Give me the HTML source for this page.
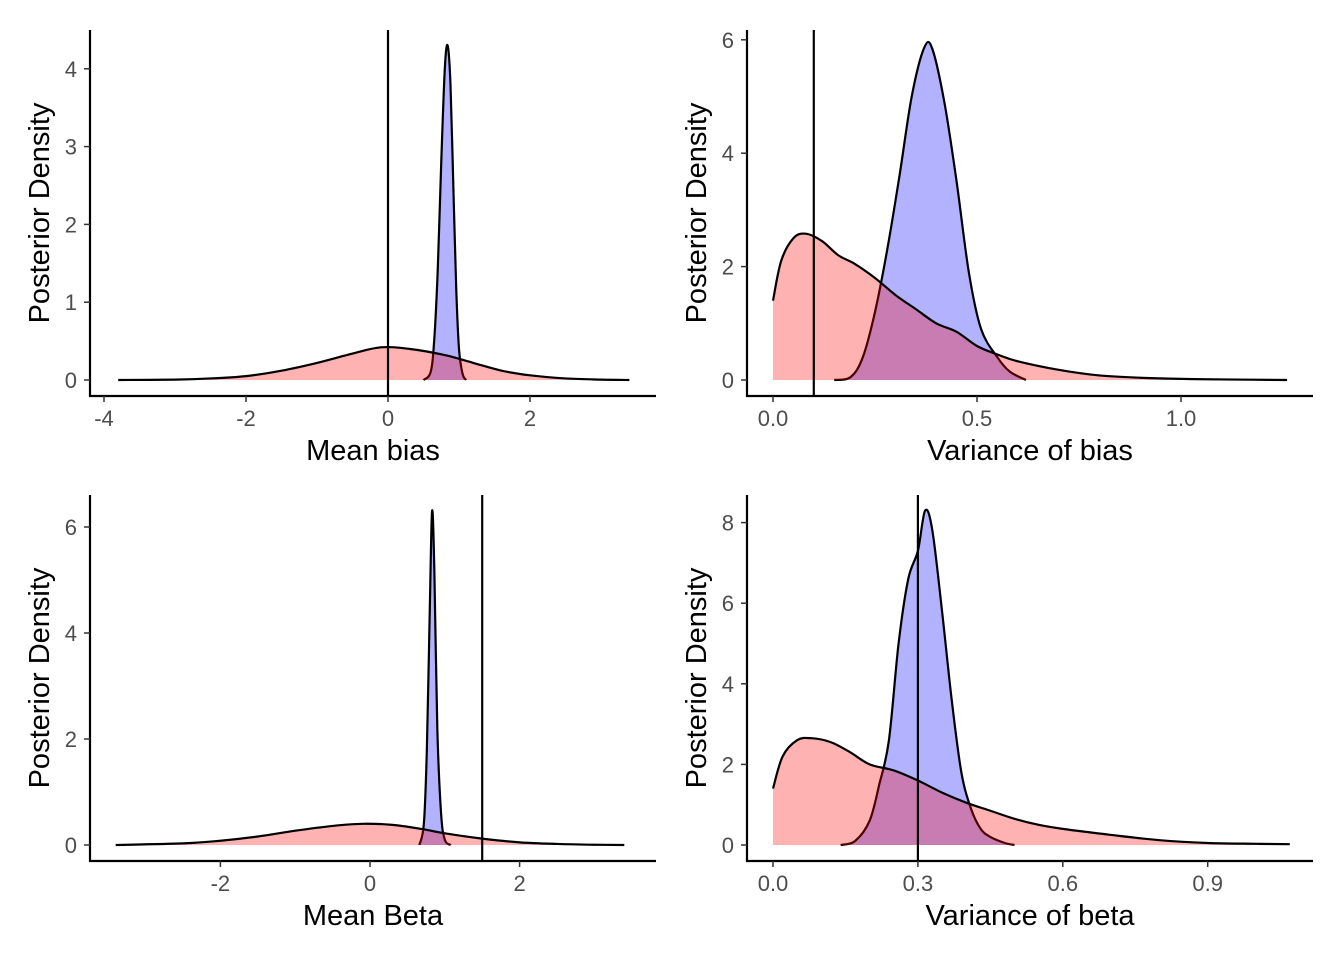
<!DOCTYPE html>
<html><head><meta charset="utf-8"><style>
html,body{margin:0;padding:0;background:#fff;width:1344px;height:960px;overflow:hidden}
svg{display:block}
.tick{font-family:"Liberation Sans",sans-serif;font-size:22px;fill:#4d4d4d}
.title{font-family:"Liberation Sans",sans-serif;font-size:29px;fill:#000}
</style></head><body>
<svg id="chart" width="1344" height="960"></svg>
<script>
// Panel 1: Mean bias
const p1RedX=[-3.8,-3,-2.5,-2,-1.5,-1,-0.5,-0.1,0.3,0.8,1.2,1.6,2,2.5,3,3.4];
const p1RedY=[0,0.005,0.02,0.05,0.12,0.22,0.34,0.42,0.40,0.32,0.22,0.12,0.06,0.02,0.005,0];
const p1BlueX=[0.5,0.6,0.65,0.7,0.75,0.8,0.84,0.88,0.92,0.96,1.0,1.05,1.1];
const p1BlueY=[0,0.1,0.5,1.4,2.8,4.0,4.3,3.8,2.5,1.2,0.4,0.08,0];
const p1Ticks=[-4,-2,0,2];const p1YTicks=[0,1,2,3,4];const p1Ref=0;
// Panel 2: Variance of bias
const p2RedX=[0,0.02,0.05,0.08,0.12,0.16,0.2,0.25,0.3,0.35,0.4,0.45,0.5,0.55,0.6,0.7,0.8,0.9,1.0,1.1,1.26];
const p2RedY=[1.4,2.1,2.5,2.58,2.45,2.2,2.05,1.8,1.5,1.25,1.0,0.85,0.6,0.45,0.33,0.18,0.08,0.04,0.02,0.01,0];
const p2BlueX=[0.15,0.19,0.22,0.25,0.28,0.31,0.34,0.37,0.39,0.42,0.45,0.48,0.51,0.55,0.58,0.62];
const p2BlueY=[0,0.05,0.4,1.2,2.3,3.6,5.0,5.85,5.85,4.9,3.5,1.9,0.9,0.4,0.15,0];
const p2Ticks=[0,0.5,1.0];const p2YTicks=[0,2,4,6];const p2Ref=0.1;
// Panel 3: Mean Beta
const p3RedX=[-3.4,-2.5,-2,-1.5,-1,-0.5,-0.1,0.3,0.7,1,1.5,2,2.5,3,3.4];
const p3RedY=[0,0.03,0.08,0.16,0.27,0.36,0.4,0.38,0.3,0.22,0.12,0.05,0.02,0.005,0];
const p3BlueX=[0.66,0.72,0.76,0.8,0.83,0.86,0.9,0.95,1.0,1.08];
const p3BlueY=[0,0.4,1.8,4.5,6.3,5.2,2.2,0.6,0.1,0];
const p3Ticks=[-2,0,2];const p3YTicks=[0,2,4,6];const p3Ref=1.5;
// Panel 4: Variance of beta
const p4RedX=[0,0.02,0.05,0.08,0.12,0.16,0.2,0.25,0.3,0.35,0.4,0.45,0.5,0.55,0.6,0.7,0.8,0.9,1.0,1.07];
const p4RedY=[1.4,2.2,2.6,2.65,2.55,2.3,2.0,1.85,1.6,1.3,1.05,0.85,0.65,0.5,0.4,0.25,0.12,0.05,0.03,0.02];
const p4BlueX=[0.14,0.17,0.2,0.22,0.24,0.26,0.28,0.3,0.315,0.33,0.35,0.37,0.39,0.41,0.43,0.45,0.48,0.5];
const p4BlueY=[0,0.1,0.6,1.5,2.6,5.0,6.6,7.3,8.3,7.8,5.8,3.6,1.8,0.9,0.4,0.2,0.05,0];
const p4Ticks=[0,0.3,0.6,0.9];const p4YTicks=[0,2,4,6,8];const p4Ref=0.3;

const NS="http://www.w3.org/2000/svg";
const svg=document.getElementById('chart');
function mk(tag,attrs,parent){const e=document.createElementNS(NS,tag);for(const k in attrs)e.setAttribute(k,attrs[k]);(parent||svg).appendChild(e);return e;}
function smooth(pts){let d='M'+pts[0][0]+','+pts[0][1];
 for(let i=0;i<pts.length-1;i++){const p0=pts[Math.max(i-1,0)],p1=pts[i],p2=pts[i+1],p3=pts[Math.min(i+2,pts.length-1)];
  let c1=[p1[0]+(p2[0]-p0[0])/6,p1[1]+(p2[1]-p0[1])/6],c2=[p2[0]-(p3[0]-p1[0])/6,p2[1]-(p3[1]-p1[1])/6];
  c1[0]=Math.min(Math.max(c1[0],p1[0]),p2[0]);c2[0]=Math.min(Math.max(c2[0],p1[0]),p2[0]);
  d+=' C'+c1[0]+','+c1[1]+' '+c2[0]+','+c2[1]+' '+p2[0]+','+p2[1];}return d;}
function fmt(v,dec){return v.toFixed(dec);}
function panel(o){
 const sx=v=>o.x0px+(v-o.x0)*o.kx, sy=v=>o.y0px-v*o.ky;
 const g=mk('g',{});
 
 
 const series=[[o.bx,o.by,'#0000ff','blue-density-'+o.name],[o.rx,o.ry,'#ff0000','red-density-'+o.name]];
 series.forEach(s=>{const pts=s[0].map((x,i)=>[sx(x),sy(Math.max(s[1][i],0))]);
  const line=smooth(pts);
  const a=mk('path',{d:line+' L'+pts[pts.length-1][0]+','+sy(0)+' L'+pts[0][0]+','+sy(0)+' Z',fill:s[2],'fill-opacity':0.3,stroke:'none'},g);
  
  
  const l=mk('path',{d:line,fill:'none',stroke:'#000','stroke-width':2.2},g);
  
  
 });
 const r=mk('line',{x1:sx(o.ref),x2:sx(o.ref),y1:o.top,y2:o.axy,stroke:'#000','stroke-width':2.2},g);
 
 
 const ya=mk('line',{x1:o.axx,x2:o.axx,y1:o.top,y2:o.axy+1,stroke:'#000','stroke-width':2.2},g);
 
 
 const xa=mk('line',{x1:o.axx-1,x2:o.right,y1:o.axy,y2:o.axy,stroke:'#000','stroke-width':2.2},g);
 
 
 o.xt.forEach(v=>{mk('line',{x1:sx(v),x2:sx(v),y1:o.axy,y2:o.axy+6,stroke:'#333','stroke-width':1.5},g);
  const t=mk('text',{x:sx(v),y:o.axy+30,'text-anchor':'middle',class:'tick'},g);t.textContent=fmt(v,o.xd);
  
  });
 o.yt.forEach(v=>{mk('line',{x1:o.axx-6,x2:o.axx,y1:sy(v),y2:sy(v),stroke:'#333','stroke-width':1.5},g);
  const t=mk('text',{x:o.axx-13,y:sy(v)+8,'text-anchor':'end',class:'tick'},g);t.textContent=String(v);
  
  });
 const xt=mk('text',{x:(o.axx+o.right)/2,y:o.axy+64,'text-anchor':'middle',class:'title'},g);xt.textContent=o.xlab;
 
 
 const yy=(o.top+o.axy)/2, yx=o.axx-41;
 const ytt=mk('text',{x:yx,y:yy,'text-anchor':'middle',class:'title',transform:'rotate(-90 '+yx+' '+yy+')'},g);ytt.textContent='Posterior Density';
 
 
}
panel({name:'mean-bias-panel',rx:p1RedX,ry:p1RedY,bx:p1BlueX,by:p1BlueY,xt:p1Ticks,yt:p1YTicks,ref:p1Ref,xd:0,
 x0:0,x0px:388,kx:71,y0px:380,ky:77.8,axx:90,axy:396,top:30,right:656,xlab:'Mean bias'});
panel({name:'variance-bias-panel',rx:p2RedX,ry:p2RedY,bx:p2BlueX,by:p2BlueY,xt:p2Ticks,yt:p2YTicks,ref:p2Ref,xd:1,
 x0:0,x0px:773,kx:408,y0px:380,ky:56.7,axx:747,axy:396,top:30,right:1313,xlab:'Variance of bias'});
panel({name:'mean-beta-panel',rx:p3RedX,ry:p3RedY,bx:p3BlueX,by:p3BlueY,xt:p3Ticks,yt:p3YTicks,ref:p3Ref,xd:0,
 x0:0,x0px:370,kx:74.8,y0px:845,ky:53,axx:90,axy:861,top:495,right:656,xlab:'Mean Beta'});
panel({name:'variance-beta-panel',rx:p4RedX,ry:p4RedY,bx:p4BlueX,by:p4BlueY,xt:p4Ticks,yt:p4YTicks,ref:p4Ref,xd:1,
 x0:0,x0px:773,kx:483,y0px:845,ky:40.3,axx:747,axy:861,top:495,right:1313,xlab:'Variance of beta'});
</script>
</body></html>
